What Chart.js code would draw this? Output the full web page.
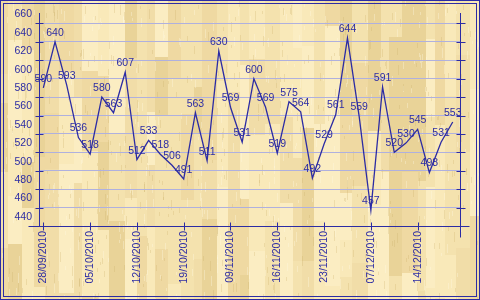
<!DOCTYPE html>
<html>
<head>
<meta charset="utf-8">
<script src="https://cdn.jsdelivr.net/npm/chart.js@4/dist/chart.umd.min.js"></script>
<style>
  html, body { margin: 0; padding: 0; background: #fff; }
  #chart { display: block; }
</style>
</head>
<body>
<canvas id="chart" width="480" height="300"></canvas>
<script>
// data
const dates = [
  '28/09/2010', '29/09/2010', '30/09/2010', '01/10/2010',
  '05/10/2010', '06/10/2010', '07/10/2010', '08/10/2010',
  '12/10/2010', '13/10/2010', '14/10/2010', '15/10/2010',
  '19/10/2010', '20/10/2010', '21/10/2010', '22/10/2010',
  '09/11/2010', '10/11/2010', '11/11/2010', '12/11/2010',
  '16/11/2010', '17/11/2010', '18/11/2010', '19/11/2010',
  '23/11/2010', '24/11/2010', '25/11/2010', '26/11/2010',
  '07/12/2010', '08/12/2010', '09/12/2010', '10/12/2010',
  '14/12/2010', '15/12/2010', '16/12/2010', '17/12/2010'
]
const prices = [
  590, 640, 593, 536, 518, 580, 563, 607, 512, 533, 518, 506,
  491, 563, 511, 630, 569, 531, 600, 569, 519, 575, 564, 492,
  529, 561, 644, 559, 457, 591, 520, 530, 545, 498, 531, 553
]
const yTicks = [440, 460, 480, 500, 520, 540, 560, 580, 600, 620, 640, 660]
const labelEvery = 4

const blue = '#2c2ca4'
const gridBlue = '#afb0de'
const fontFamily = '"Liberation Sans", Arial, sans-serif'

// wood planks behind everything
const woodBg = {
  id: 'woodBg',
  beforeDraw(chart) {
    const ctx = chart.ctx
    const tones = ['#f9e9b9', '#efd9a2', '#f4e2ae', '#e9d398', '#fbedc2', '#f1dda8']
    let seed = 11
    const rnd = () => (seed = (seed * 16807) % 2147483647) / 2147483647
    ctx.save()
    for (let x = 0; x < 480;) {
      const w = 8 + Math.floor(rnd() * 9)
      for (let y = 0; y < 300;) {
        const h = 25 + Math.floor(rnd() * 110)
        ctx.fillStyle = tones[Math.floor(rnd() * tones.length)]
        ctx.fillRect(x, y, w, h)
        y += h
      }
      x += w
    }
    // fine grain
    for (let i = 0; i < 900; i++) {
      const gx = Math.floor(rnd() * 480), gy = Math.floor(rnd() * 300)
      ctx.fillStyle = rnd() < 0.5 ? 'rgba(200,170,100,0.25)' : 'rgba(255,250,225,0.35)'
      ctx.fillRect(gx, gy, 1, 3 + Math.floor(rnd() * 8))
    }
    ctx.restore()
  }
}

// value text above every point, under the line
const valueLabels = {
  id: 'valueLabels',
  beforeDatasetsDraw(chart) {
    const ctx = chart.ctx
    const meta = chart.getDatasetMeta(0)
    ctx.save()
    ctx.fillStyle = blue
    ctx.font = '10.5px ' + fontFamily
    ctx.textAlign = 'center'
    ctx.textBaseline = 'middle'
    meta.data.forEach((p, i) => ctx.fillText(prices[i], p.x, p.y - 9))
    ctx.restore()
  }
}

// axis lines, crossing tick marks and the double frame
const axesFrame = {
  id: 'axesFrame',
  afterDraw(chart) {
    const { ctx, chartArea: a, scales } = chart
    const L = Math.round(a.left) + 0.5, R = Math.round(a.right) + 0.5
    const T = Math.round(a.top), B = Math.round(a.bottom) + 0.5
    ctx.save()
    ctx.strokeStyle = blue
    ctx.lineWidth = 1
    ctx.beginPath()
    ctx.moveTo(L, T); ctx.lineTo(L, B)
    ctx.moveTo(R, T); ctx.lineTo(R, B + 11)
    ctx.moveTo(L - 11, B); ctx.lineTo(R + 9, B)
    yTicks.forEach(v => {
      const y = Math.round(scales.y.getPixelForValue(v)) + 0.5
      ctx.moveTo(L - 4, y); ctx.lineTo(L + 4, y)
      ctx.moveTo(R - 4, y); ctx.lineTo(R + 5, y)
    })
    scales.x.ticks.forEach(t => {
      const x = Math.round(scales.x.getPixelForValue(t.value)) + 0.5
      ctx.moveTo(x, B - 4); ctx.lineTo(x, B + 4)
    })
    ctx.stroke()
    ctx.strokeRect(0.5, 0.5, 479, 299)
    ctx.strokeRect(3.5, 3.5, 473, 293)
    ctx.restore()
  }
}

new Chart(document.getElementById('chart'), {
  type: 'line',
  data: {
    datasets: [{
      data: prices.map((v, i) => ({ x: i, y: v })),
      borderColor: blue,
      borderWidth: 1.3,
      pointRadius: 0,
      tension: 0,
      fill: false
    }]
  },
  options: {
    responsive: false,
    animation: false,
    devicePixelRatio: 1,
    layout: { padding: { top: 10, left: 0, right: 20, bottom: 0 } },
    plugins: { legend: { display: false }, tooltip: { enabled: false } },
    scales: {
      x: {
        type: 'linear',
        min: -0.37,
        max: 35.62,
        afterBuildTicks: s => {
          s.ticks = dates.map((d, i) => i).filter(i => i % labelEvery === 0).map(i => ({ value: i }))
        },
        afterFit: s => { s.height = 74 },
        grid: { display: false, drawTicks: false },
        border: { display: false },
        ticks: {
          autoSkip: false,
          minRotation: 90,
          maxRotation: 90,
          padding: 5,
          color: blue,
          font: { family: fontFamily, size: 10.5 },
          callback: v => dates[v]
        }
      },
      y: {
        min: 440,
        max: 671,
        afterBuildTicks: s => { s.ticks = yTicks.map(v => ({ value: v })) },
        afterFit: s => { s.width = 39 },
        grid: { color: gridBlue, drawTicks: false, lineWidth: 1 },
        border: { display: false },
        ticks: {
          padding: 7,
          labelOffset: -9,
          color: blue,
          font: { family: fontFamily, size: 10.5 }
        }
      }
    }
  },
  plugins: [woodBg, valueLabels, axesFrame]
})
</script>
</body>
</html>
